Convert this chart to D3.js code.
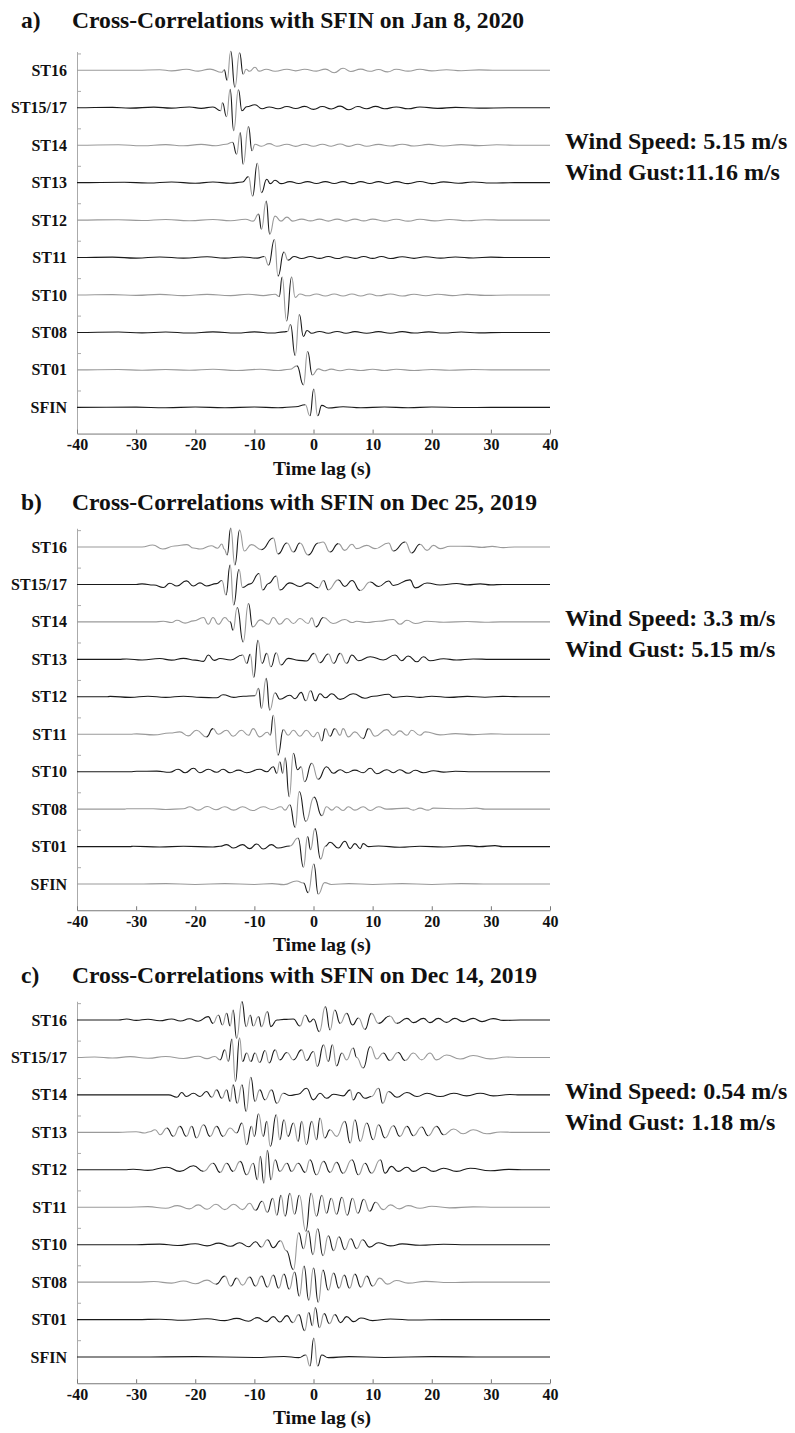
<!DOCTYPE html>
<html>
<head>
<meta charset="utf-8">
<script src="https://cdn.jsdelivr.net/npm/d3@7"></script>
<style>
body { margin: 0; background: #fff; }
svg text { font-family: "Liberation Serif", "Times New Roman", serif; font-weight: bold; fill: #111; }
</style>
</head>
<body>
<script>
// stations, top to bottom
var stations = ["ST16", "ST15/17", "ST14", "ST13", "ST12", "ST11", "ST10", "ST08", "ST01", "SFIN"];
var timeTicks = [-40, -30, -20, -10, 0, 10, 20, 30, 40];
var panelLetters = ["a)", "b)", "c)"];
var panelTitles = ["Cross-Correlations with SFIN on Jan 8, 2020",
                   "Cross-Correlations with SFIN on Dec 25, 2019",
                   "Cross-Correlations with SFIN on Dec 14, 2019"];
var windSpeed = ["Wind Speed: 5.15 m/s", "Wind Speed: 3.3 m/s", "Wind Speed: 0.54 m/s"];
var windGust = ["Wind Gust:11.16 m/s", "Wind Gust: 5.15 m/s", "Wind Gust: 1.18 m/s"];

// traces: [time lag (s), normalised amplitude]
var tracesA = [
  [[-40,0],[-30,0],[-26,0.03],[-24,-0.03],[-21.5,0.05],[-19.5,-0.04],[-17.5,0.06],[-15.5,-0.1],[-15.1,0.02],[-14.6,-0.5],[-14.0,0.95],[-13.3,-0.85],[-12.5,0.88],[-11.9,-0.2],[-11.4,0.05],[-10.8,-0.05],[-9.9,0.15],[-9.2,-0.04],[-8,0.05],[-6.5,-0.05],[-4.5,0.05],[-3,-0.03],[-1.5,0.05],[0.5,-0.04],[2,0.06],[3.5,-0.12],[5,0.1],[6.3,-0.06],[8,0.06],[9.5,-0.05],[11,0.04],[12.5,-0.08],[14,0.05],[16,-0.04],[18,0.05],[20,-0.03],[22.5,0.03],[25,-0.02],[28,0.02],[31,0],[40,0]],
  [[-40,0],[-34,0.02],[-31,-0.02],[-27,0.03],[-24,-0.02],[-21,0.04],[-19,-0.03],[-17,0.04],[-15.7,-0.15],[-15.4,0.25],[-14.7,-0.45],[-14.1,0.92],[-13.5,-1.15],[-12.7,0.9],[-12.1,-0.15],[-11.3,0.05],[-9.9,0.15],[-8.7,-0.05],[-7.5,0.04],[-6,-0.05],[-4.5,0.06],[-3,-0.04],[-1.5,0.07],[0,-0.08],[1.5,0.06],[3,-0.06],[4.5,0.08],[6,-0.1],[7.5,0.06],[9,-0.05],[10.5,0.07],[12,-0.05],[14,0.04],[16,-0.05],[18,0.04],[21,-0.03],[24,0.02],[28,-0.02],[33,0],[40,0]],
  [[-40,0],[-33,0.02],[-29,-0.03],[-25,0.03],[-22,-0.03],[-19,0.04],[-16.5,-0.03],[-14.8,0.05],[-13.7,0.15],[-13.0,-0.45],[-12.4,0.63],[-11.9,-0.95],[-11.0,0.93],[-10.4,-0.28],[-9.9,0.05],[-8.8,-0.05],[-7.5,0.08],[-6.2,-0.05],[-4.5,0.05],[-3,-0.06],[-1.5,0.05],[0,-0.05],[1.5,0.05],[3,-0.05],[4.5,0.06],[6,-0.06],[7.5,0.05],[9,-0.05],[11,0.04],[13,-0.04],[15,0.05],[17,-0.04],[19.5,0.04],[22,-0.04],[25,0.03],[28,-0.02],[31,0.02],[34,0],[40,0]],
  [[-40,0],[-32,0.02],[-28,-0.02],[-24,0.03],[-20,-0.03],[-17,0.03],[-14,-0.03],[-12,0.03],[-11.0,0.3],[-10.3,-0.67],[-9.5,0.97],[-8.8,-0.5],[-7.9,0.17],[-7.3,-0.05],[-6.5,0.12],[-5.5,-0.05],[-4,0.05],[-2.5,-0.04],[-1,0.05],[0.5,-0.04],[2,0.05],[3.5,-0.04],[5,0.05],[6.5,-0.05],[8,0.05],[9.5,-0.04],[11,0.05],[12.5,-0.04],[14,0.05],[16,-0.05],[18,0.06],[20,-0.05],[22,0.04],[24.5,-0.03],[27,0.03],[30,-0.02],[34,0],[40,0]],
  [[-40,0],[-33,0.02],[-29,-0.02],[-25,0.03],[-21,-0.03],[-17,0.03],[-14,-0.03],[-11.5,0.04],[-10.2,-0.05],[-9.3,0.3],[-8.8,-0.45],[-8.0,0.95],[-7.4,-0.7],[-6.5,0.2],[-5.5,-0.05],[-4.5,0.15],[-3.5,-0.05],[-2,0.05],[-0.5,-0.04],[1,0.05],[2.5,-0.05],[4,0.05],[5.5,-0.05],[7,0.05],[8.5,-0.04],[10,0.05],[12,-0.05],[14,0.04],[16,-0.05],[18,0.04],[20.5,-0.04],[23,0.03],[26,-0.03],[29,0.02],[32,0],[40,0]],
  [[-40,0],[-34,0.02],[-30,-0.03],[-26,0.03],[-22,-0.03],[-18,0.04],[-15,-0.03],[-12,0.03],[-9.5,-0.03],[-8.3,0.05],[-7.6,-0.38],[-6.6,0.9],[-6.0,-0.93],[-5.0,0.28],[-4.3,-0.13],[-3.3,0.05],[-2,-0.05],[-0.5,0.05],[1,-0.04],[2.5,0.05],[4,-0.05],[5.5,0.04],[7,-0.04],[8.5,0.05],[10,-0.04],[11.5,0.05],[13,-0.05],[15,0.04],[17,-0.04],[19,0.04],[21.5,-0.03],[24,0.03],[27,-0.02],[30,0.02],[33,0],[40,0]],
  [[-40,0],[-34,0.02],[-30,-0.02],[-26,0.03],[-22,-0.03],[-18,0.03],[-14,-0.03],[-11,0.04],[-8.5,-0.03],[-6.5,0.04],[-5.8,-0.08],[-5.3,0.9],[-4.55,-1.3],[-3.7,0.9],[-3.1,-0.12],[-2.3,0.05],[-1,-0.04],[0.5,0.05],[2,-0.05],[3.5,0.05],[5,-0.05],[6.5,0.05],[8,-0.05],[9.5,0.05],[11,-0.04],[13,0.05],[15,-0.05],[17,0.04],[19,-0.04],[21,0.04],[23.5,-0.03],[26,0.03],[29,-0.02],[33,0],[40,0]],
  [[-40,0],[-33,0.02],[-29,-0.02],[-25,0.02],[-21,-0.03],[-17,0.03],[-13,-0.03],[-10,0.03],[-7,-0.03],[-5,0.03],[-4.4,0.05],[-3.9,0.4],[-3.1,-1.15],[-2.4,0.9],[-1.7,-0.2],[-1.1,0.1],[-0.3,-0.04],[1,0.05],[2.5,-0.04],[4,0.05],[5.5,-0.04],[7,0.04],[9,-0.04],[11,0.04],[13,-0.04],[15,0.04],[17,-0.03],[19.5,0.03],[22,-0.03],[25,0.02],[28,-0.02],[32,0],[40,0]],
  [[-40,0],[-33,0.02],[-29,-0.02],[-25,0.02],[-21,-0.02],[-17,0.03],[-13,-0.03],[-9,0.03],[-6,-0.03],[-4,0.03],[-2.8,0.2],[-1.7,-0.75],[-1.0,0.92],[-0.2,-0.25],[0.8,0.05],[1.8,-0.04],[3,0.04],[4.5,-0.04],[6,0.03],[8,-0.03],[10,0.03],[12,-0.03],[14,0.03],[17,-0.03],[20,0.02],[23,-0.02],[27,0.02],[31,0],[40,0]],
  [[-40,0],[-30,0.01],[-25,-0.02],[-20,0.02],[-15,-0.02],[-10,0.02],[-6,-0.02],[-3,0.03],[-1.4,0.13],[-0.6,-0.42],[0.05,0.92],[0.7,-0.42],[1.4,0.1],[2.5,-0.03],[5,0.03],[8,-0.02],[12,0.02],[16,-0.02],[20,0.02],[25,-0.01],[30,0],[40,0]]
];

var tracesB = [
  [[-40,0],[-29,0],[-27.2,0.1],[-25.5,-0.1],[-23.5,0.05],[-21.4,0.12],[-20.3,-0.05],[-19.2,-0.1],[-17.3,0.06],[-16.2,-0.06],[-15.5,0.15],[-15.1,-0.1],[-14.6,-0.4],[-14.0,0.95],[-13.3,-0.9],[-12.5,0.85],[-11.7,-0.2],[-10.5,0.12],[-8.8,-0.13],[-6.8,0.45],[-6.0,-0.35],[-4.5,0.2],[-3.4,-0.25],[-2.3,0.2],[-0.9,-0.4],[0.8,0.2],[1.6,0.25],[2.8,-0.25],[4.2,0.17],[5.3,-0.17],[6.5,0.14],[7.3,-0.08],[9,0.08],[10.4,-0.08],[12.7,0.2],[13.5,-0.2],[15.5,0.25],[16.6,-0.3],[18,0.14],[19.2,-0.17],[20.3,0.08],[21.4,-0.08],[23.1,0.04],[26.5,0.03],[28.5,-0.02],[30.2,0.03],[32.1,-0.03],[34,0],[40,0]],
  [[-40,0],[-30,0],[-29,0.03],[-27,-0.03],[-25.4,-0.15],[-24.3,0.06],[-23.1,-0.08],[-21.5,0.18],[-20.3,-0.08],[-19.2,0.08],[-18.1,-0.08],[-16.4,0.04],[-15.5,0.2],[-14.8,-0.53],[-14.1,0.97],[-13.5,-1.03],[-12.6,0.75],[-12.0,-0.15],[-10.7,0.03],[-9.2,0.55],[-8.6,-0.28],[-7.6,0.05],[-6.3,0.42],[-5.7,-0.28],[-4,0.08],[-2.3,-0.1],[-0.9,0.08],[0.8,-0.17],[1.7,0.2],[2.5,-0.27],[4.2,0.23],[5.3,-0.1],[6.5,0.2],[7.9,-0.3],[9.6,0.12],[11,-0.1],[12.7,0.17],[13.5,-0.05],[16.3,0.23],[17.2,-0.17],[19.2,0.07],[21.4,-0.03],[24.2,0.05],[26,-0.02],[28.2,0.03],[30,-0.02],[32,0],[40,0]],
  [[-40,0],[-27,0],[-25.4,0.03],[-24,-0.03],[-23.1,0.08],[-21.7,-0.06],[-20.3,0.05],[-18.6,0.22],[-17.8,-0.12],[-17,0.22],[-16.1,-0.12],[-15,0.22],[-14.1,0],[-13.6,-0.42],[-12.9,0.72],[-11.9,-1.0],[-11,0.92],[-10.3,-0.25],[-9,0.1],[-7.6,-0.12],[-6.8,0.22],[-5.7,-0.12],[-4.5,0.17],[-3.4,-0.08],[-2.3,0.17],[-0.9,-0.08],[-0.3,0.2],[0.4,-0.25],[1.7,0.22],[3.3,-0.08],[5.3,0.12],[6.5,-0.03],[7.3,0.03],[9,-0.03],[11,0.03],[13.5,0.12],[14.6,-0.12],[15.8,0.08],[17.2,-0.08],[19.2,0.03],[22,-0.02],[26,0.02],[29,-0.02],[31.6,0],[40,0]],
  [[-40,0],[-33,0],[-31.6,0.02],[-29,-0.03],[-26,0.04],[-24,-0.04],[-22,0.05],[-20,-0.04],[-18.6,-0.1],[-17.8,0.22],[-16.8,-0.05],[-15.8,0.04],[-14,-0.03],[-12,0.22],[-11.3,-0.2],[-10.7,0.25],[-10.1,-0.9],[-9.4,0.95],[-8.7,-0.2],[-7.9,0.3],[-7.2,-0.37],[-6.3,0.33],[-5.5,-0.28],[-4.3,0.05],[-2.5,-0.05],[-1.2,-0.08],[0.1,0.3],[1.1,-0.17],[2.5,0.27],[3.4,-0.2],[4.5,0.3],[5.6,-0.2],[6.5,0.22],[7.6,-0.07],[9.6,0.13],[11.8,-0.03],[13.8,0.22],[14.9,-0.07],[16,0.17],[17.5,-0.12],[18.6,0.13],[19.7,-0.07],[22,0.03],[24.2,-0.03],[27,0.02],[30,0],[40,0]],
  [[-40,0],[-35,0],[-34.4,0.02],[-31,-0.03],[-28,0.03],[-25,-0.03],[-22,0.03],[-19,-0.03],[-16.4,-0.05],[-15.3,0.1],[-13.5,-0.03],[-11.9,0.03],[-9.9,0.05],[-9.3,0.42],[-8.8,-0.58],[-8,0.92],[-7.4,-0.67],[-6.5,0.2],[-5.7,-0.12],[-4,0.08],[-3.1,-0.1],[-2.1,0.22],[-1.3,-0.2],[-0.5,0.3],[0.3,-0.2],[1.1,0.15],[2,-0.05],[3.1,0.15],[4.5,-0.13],[6.7,0.15],[8.7,-0.07],[10.1,0.03],[12.7,0.13],[13.5,-0.03],[15.8,0.03],[18,-0.03],[20,0.03],[23,-0.03],[26,0.02],[29,-0.02],[32,0.02],[36,0],[40,0]],
  [[-40,0],[-31,0],[-29.9,0.02],[-27,-0.03],[-24.3,0.06],[-22.6,0.12],[-21.2,-0.08],[-19.8,0.2],[-18.1,-0.13],[-17,0.28],[-16.1,0],[-14.7,0.2],[-13.6,-0.1],[-12.2,0.2],[-11,-0.05],[-10.2,0.28],[-9.1,-0.13],[-7.8,0.1],[-7.3,-0.05],[-6.8,0.95],[-6.0,-1.05],[-5.1,0.23],[-4.3,-0.05],[-3.4,0.2],[-2.3,-0.1],[-1.2,0.2],[0,-0.13],[0.7,0.1],[1.4,-0.33],[2.0,0.28],[2.8,-0.1],[3.6,0.28],[4.5,-0.05],[5.0,0.28],[5.9,-0.13],[7,0.12],[8.4,-0.22],[9.3,0.28],[10.4,-0.1],[12.4,0.23],[13.5,-0.05],[14.6,0.17],[15.8,-0.05],[16.6,0.2],[18,-0.05],[18.9,0.12],[21.4,-0.03],[24,0.03],[27,-0.02],[30,0.02],[33,0],[40,0]],
  [[-40,0],[-31,0],[-29.9,0.02],[-26.5,0.03],[-24.3,-0.03],[-22.9,0.12],[-21.7,-0.05],[-20.3,0.17],[-19.2,-0.05],[-17.8,0.12],[-16.4,-0.03],[-15.3,0.12],[-14.1,-0.05],[-12.7,0.08],[-11.3,-0.05],[-9.1,0.12],[-7.9,0],[-6.8,0.25],[-6.2,-0.08],[-5.7,0.5],[-5.2,-0.08],[-4.8,0.7],[-4.1,-1.25],[-3.4,0.92],[-2.7,0.1],[-2.1,0.25],[-1.5,-0.5],[-0.3,0.42],[0.8,-0.38],[2.2,0.25],[3.35,-0.08],[4.5,0.1],[5.6,-0.05],[7,0.08],[8.4,-0.05],[9.6,0.17],[10.7,-0.1],[12.4,0.1],[13.5,-0.05],[14.6,0.1],[16,-0.08],[17.2,0.07],[18.6,-0.05],[20.3,0.05],[22,-0.02],[24,0.02],[27,0],[40,0]],
  [[-40,0],[-32,0],[-31.6,0.02],[-27.1,0.02],[-25,-0.02],[-22,0.02],[-20.9,0.12],[-19.5,-0.05],[-18,0.13],[-16.5,-0.03],[-15,0.12],[-13.5,-0.05],[-12,0.12],[-10.3,-0.07],[-8.5,0.12],[-7,-0.02],[-5.5,0.12],[-4.8,-0.05],[-4,0.22],[-3.1,-0.92],[-2.4,0.88],[-1.3,-0.62],[0.1,0.6],[1.4,-0.33],[2.2,0.12],[3.1,-0.05],[3.9,0.12],[5,-0.07],[5.9,0.12],[7,-0.05],[8.4,0.12],[9.6,-0.07],[11,0.12],[12.4,0],[15.8,0.05],[16.9,-0.05],[18,0.05],[19.4,-0.05],[20.3,0.05],[24.8,0.02],[27.6,0.05],[29,0],[40,0]],
  [[-40,0],[-31,0],[-30.5,0.02],[-26,-0.02],[-22,0.02],[-17,-0.02],[-15.8,0.02],[-14.7,0.1],[-13.5,-0.07],[-12,0.1],[-10.8,-0.1],[-9.6,0.13],[-8.5,-0.12],[-7.1,0.1],[-6,-0.07],[-4,0.03],[-2.6,0.43],[-1.7,-1.03],[-1,0.5],[-0.5,-0.15],[0.25,0.9],[1.2,-0.62],[2,0.02],[2.8,0.22],[4.2,-0.07],[5.3,0.27],[6.2,-0.1],[7,0.15],[7.9,-0.1],[8.4,0.15],[9.3,0],[11,0.03],[14.6,-0.03],[18,0.02],[22,-0.02],[26.2,0.05],[28,0],[30.7,0.05],[32,0],[40,0]],
  [[-40,0],[-30,0],[-25,0.02],[-20,-0.02],[-15,0.02],[-10,-0.02],[-7,0.02],[-5,-0.03],[-2.85,0.15],[-1.7,0.05],[-0.9,-0.43],[0.05,1.0],[0.8,-0.5],[1.9,0.07],[3,-0.02],[6,0.02],[10,-0.02],[15,0.02],[20,-0.02],[25,0.02],[30,0],[40,0]]
];

var tracesC = [
  [[-40,0],[-33,0],[-31.6,0.05],[-30,-0.02],[-28,0.04],[-26,-0.04],[-24,0.05],[-22.5,-0.05],[-21,0.06],[-19.5,-0.06],[-17.8,0.17],[-17,-0.17],[-16.1,0.25],[-15.4,-0.25],[-14.7,0.33],[-14.1,-0.3],[-13.6,0.5],[-13,-0.92],[-12.1,0.92],[-11.4,-0.33],[-10.7,0.25],[-10.2,-0.3],[-9.3,0.17],[-8.8,-0.33],[-7.8,0.42],[-7.2,-0.33],[-6.2,0],[-5,0.03],[-3.4,0.05],[-2.3,-0.3],[-1.4,0.25],[-0.6,-0.1],[0,0.05],[1,-0.58],[2,0.67],[2.8,-0.5],[3.6,0.5],[4.5,-0.17],[5.6,0.33],[6.6,-0.25],[7.6,0.1],[8.7,-0.47],[9.8,0.33],[11,-0.17],[12.9,0.2],[14.1,-0.17],[15.8,0.08],[16.9,-0.13],[18.6,0.08],[19.7,-0.13],[21.1,0.08],[22.5,-0.12],[23.9,0.08],[25.3,-0.08],[27,0.08],[28.5,-0.08],[30.4,0.07],[32.1,-0.02],[35,0],[40,0]],
  [[-40,0],[-37,0.02],[-34,-0.03],[-31,0.04],[-28,-0.04],[-25,0.05],[-22,-0.05],[-19.5,0.06],[-18,-0.06],[-16.7,0.05],[-15.8,-0.12],[-15,0.38],[-14.4,-0.2],[-13.8,0.92],[-13.2,-1.2],[-12.5,0.97],[-12,-0.2],[-11.3,0.22],[-10.6,-0.2],[-9.9,0.22],[-9.1,-0.25],[-8.2,0.35],[-7.5,-0.28],[-6.5,0.38],[-5.7,-0.12],[-4.5,0.25],[-3.4,-0.12],[-2,0.38],[-1.2,-0.15],[0,0.3],[0.65,-0.45],[1.7,0.63],[2.5,-0.2],[3.2,0.63],[3.9,-0.42],[4.8,0.22],[5.6,-0.12],[6.7,0.47],[7.3,0],[8.4,-0.53],[9.6,0.55],[10.7,-0.08],[11.8,0.22],[12.9,-0.15],[14.3,0.25],[15.5,-0.15],[16.9,0.22],[18.3,-0.12],[19.7,0.22],[20.8,-0.12],[22.5,0.12],[24.8,-0.08],[27,0.1],[29.9,-0.07],[32.7,0.02],[35,0],[40,0]],
  [[-40,0],[-24.5,0],[-23.1,-0.12],[-22.3,0.12],[-21.5,-0.08],[-20.3,0.08],[-19.2,-0.08],[-18.1,0.17],[-17.2,-0.12],[-16.4,0.25],[-15.5,-0.17],[-14.7,0.25],[-14.1,-0.33],[-13.6,0.5],[-12.9,-0.42],[-12.1,0.5],[-11.4,-0.83],[-10.6,0.88],[-9.9,-0.33],[-9.1,0.25],[-8.2,-0.25],[-7.1,0.25],[-6.2,-0.42],[-5.1,0.08],[-4,-0.03],[-2.6,0.03],[-1.2,0.33],[0,-0.25],[1.1,0.08],[2.2,-0.17],[3.4,0.03],[5,-0.05],[6.2,0.25],[6.7,-0.25],[7.6,0.12],[8.7,-0.17],[9.8,-0.08],[11,0.33],[11.7,-0.42],[12.7,0.17],[14.1,-0.12],[15.8,0.12],[17.5,-0.08],[19.2,0.08],[21.4,-0.08],[23.7,0.08],[25.9,-0.05],[28.2,0.08],[30.4,-0.05],[33.2,0.02],[35,0],[40,0]],
  [[-40,0],[-33,0],[-30,0.03],[-28.5,-0.03],[-27.7,0.03],[-26.8,0.13],[-25.9,-0.12],[-24.8,0.22],[-23.7,-0.2],[-22.6,0.3],[-21.5,-0.2],[-20.6,0.3],[-19.8,-0.28],[-18.6,0.38],[-17.5,-0.2],[-16.4,0.3],[-15.3,-0.2],[-14.1,0.22],[-13,-0.03],[-12.1,0.47],[-11.3,-0.62],[-10.5,0.3],[-10,-0.2],[-9.3,0.93],[-8.5,-0.2],[-7.9,0.55],[-7.3,-0.7],[-6.3,0.88],[-5.7,-0.37],[-5,0.63],[-4.3,-0.2],[-3.4,0.47],[-2.6,-0.45],[-2,0.55],[-1.2,-0.62],[-0.3,0.55],[0.5,-0.37],[1.1,0.72],[1.9,-0.28],[2.8,0.13],[3.9,-0.2],[5.3,0.55],[6.2,-0.53],[7,0.63],[7.9,-0.45],[9,0.47],[10.1,-0.37],[11,0.38],[12.1,-0.28],[13.5,0.33],[14.6,-0.2],[15.8,0.3],[16.9,-0.17],[18.3,0.27],[19.4,-0.17],[20.8,0.3],[22,-0.12],[23.7,0.17],[25.3,-0.07],[27,0.13],[29.3,-0.07],[31.6,0.02],[34,0],[40,0]],
  [[-40,0],[-32,0],[-30.5,0.03],[-28,-0.03],[-24.8,0.13],[-22.6,-0.08],[-20.3,0.2],[-18.6,-0.08],[-17,0.33],[-15.8,-0.13],[-14.7,0.33],[-13.6,-0.08],[-12.4,0.42],[-11.3,-0.25],[-10.2,0.33],[-9.5,-0.5],[-9,0.67],[-8.4,-0.67],[-7.8,0.97],[-7.2,-0.5],[-6.5,0.5],[-5.7,-0.08],[-4.5,0.33],[-3.7,-0.08],[-2.6,0.33],[-1.4,-0.13],[-0.6,0.5],[0.5,-0.25],[1.7,0.42],[2.8,-0.13],[3.9,0.37],[5,-0.17],[6.5,0.5],[7.6,-0.25],[8.7,0.33],[9.8,-0.17],[11.3,0.5],[12.1,-0.17],[13.2,0.17],[14.3,-0.08],[15.8,0.13],[16.9,-0.08],[18.6,0.13],[20.3,-0.08],[22,0.08],[24.2,-0.08],[26.5,0.08],[29.9,-0.05],[33,0.02],[36,0],[40,0]],
  [[-40,0],[-32,0],[-28,0.03],[-25,-0.05],[-23,0.08],[-21,-0.08],[-19.5,0.12],[-18,-0.1],[-16.5,0.15],[-15,-0.12],[-13.5,0.15],[-12,-0.12],[-10.8,0.2],[-9.8,-0.15],[-8.7,0.3],[-7.8,-0.25],[-6.9,0.45],[-6.2,-0.4],[-5.5,0.6],[-4.8,-0.45],[-4,0.7],[-3.2,-0.35],[-2.4,0.6],[-1.3,-1.2],[-0.4,0.7],[0.5,-0.45],[1.4,0.6],[2.2,-0.3],[3,0.45],[3.9,-0.35],[4.8,0.5],[5.7,-0.4],[6.6,0.45],[7.5,-0.3],[8.5,0.4],[9.5,-0.2],[10.5,0.25],[11.8,-0.12],[13,0.12],[14.5,-0.08],[16,0.08],[18,-0.05],[20,0.05],[23,-0.03],[27,0.02],[31,0],[40,0]],
  [[-40,0],[-30,0],[-26,0.03],[-23,-0.04],[-20,0.05],[-18,-0.06],[-16,0.08],[-14,-0.08],[-12.5,0.1],[-11,-0.1],[-9.8,0.15],[-8.8,-0.12],[-7.8,0.25],[-6.8,-0.15],[-5.6,0.2],[-4.6,-0.3],[-3.4,-1.25],[-2.5,0.6],[-1.7,-0.2],[-0.9,0.7],[-0.1,-0.5],[0.7,0.8],[1.6,-0.55],[2.5,0.45],[3.4,-0.3],[4.3,0.4],[5.3,-0.25],[6.3,0.3],[7.3,-0.2],[8.3,0.25],[9.5,-0.12],[11,0.1],[13,-0.06],[15,0.04],[18,-0.03],[22,0.02],[26,0],[40,0]],
  [[-40,0],[-30,0],[-27,0.03],[-24,-0.05],[-22,0.06],[-20,-0.08],[-18,0.1],[-16.5,-0.1],[-15,0.3],[-14,-0.2],[-13,0.2],[-12,-0.15],[-10.8,0.25],[-9.8,-0.2],[-8.8,0.3],[-7.8,-0.25],[-6.8,0.35],[-5.9,-0.3],[-5,0.4],[-4.1,-0.35],[-3.2,0.5],[-2.4,-0.7],[-1.6,0.8],[-0.8,-0.9],[0,0.7],[0.8,-1],[1.6,0.6],[2.5,-0.4],[3.4,0.45],[4.3,-0.3],[5.2,0.35],[6.1,-0.3],[7,0.4],[8,-0.25],[9,0.3],[10,-0.2],[11.2,0.2],[12.5,-0.1],[14,0.08],[16,-0.05],[19,0.04],[23,-0.02],[27,0],[40,0]],
  [[-40,0],[-30,0],[-26,0.02],[-22,-0.03],[-18,0.04],[-15,-0.05],[-13,0.06],[-11,-0.08],[-9.5,0.1],[-8,-0.1],[-6.8,0.15],[-5.7,-0.12],[-4.5,0.2],[-3.5,-0.15],[-2.5,0.25],[-1.5,-0.55],[-0.8,0.35],[-0.2,-0.3],[0.3,0.6],[1,-0.4],[1.8,0.3],[2.7,-0.2],[3.6,0.25],[4.6,-0.15],[5.6,0.15],[6.8,-0.1],[8,0.08],[10,-0.05],[13,0.03],[17,-0.02],[22,0],[40,0]],
  [[-40,0],[-30,0],[-20,0.02],[-10,-0.02],[-5,0.03],[-2.5,-0.03],[-1.3,0.1],[-0.6,-0.45],[0.05,0.95],[0.7,-0.45],[1.4,0.1],[2.5,-0.03],[6,0.02],[12,-0.02],[20,0.02],[30,0],[40,0]]
];

// base colour of each trace (g = grey, k = black)
var baseColorsA = ["g","k","g","k","g","k","g","k","g","k"];
var baseColorsB = ["g","k","g","k","k","g","k","g","k","g"];
var baseColorsC = ["k","g","k","g","k","g","k","g","k","k"];

var panelTracesList = [tracesA, tracesB, tracesC];
var panelColorsList = [baseColorsA, baseColorsB, baseColorsC];
var panelTops = [70.3, 547, 1020];
var titleBaselines = [28, 510, 983];

var W = 795, H = 1433;
var spacing = 37.45;
var grey = "#9a9a9a", black = "#1a1a1a";

var svg = d3.select("body").append("svg").attr("width", W).attr("height", H);

var x = d3.scaleLinear().domain([-40, 40]).range([77, 550]);
var amp = d3.scaleLinear().domain([-1, 1]).range([20, -20]);
var line = d3.line().x(function(d){return x(d[0]);}).y(function(d){return amp(d[1]);}).curve(d3.curveBumpX);

function drawPanel(p) {
  var top = panelTops[p];
  var g = svg.append("g");
  var yIdx = d3.scaleLinear().domain([0, 9]).range([top, top + 9 * spacing]);
  var axisY = yIdx(9.7);

  // titles
  g.append("text").attr("x", 21).attr("y", titleBaselines[p]).attr("font-size", 23.5).text(panelLetters[p]);
  g.append("text").attr("x", 72).attr("y", titleBaselines[p]).attr("font-size", 23.6).text(panelTitles[p]);

  // wind
  g.append("text").attr("x", 565).attr("y", top + 79).attr("font-size", 24).text(windSpeed[p]);
  g.append("text").attr("x", 565).attr("y", top + 110).attr("font-size", 24).text(windGust[p]);

  // left axis
  var yAxisScale = d3.scaleLinear().domain([-0.5, 9.7]).range([yIdx(-0.5), axisY]);
  var yAx = g.append("g").attr("transform", "translate(" + x(-40) + ",0)")
    .call(d3.axisLeft(yAxisScale).tickValues(d3.range(0, 10).map(function(k){return k - 0.45;}))
      .tickSizeInner(-4).tickSizeOuter(0).tickFormat(""));
  yAx.selectAll("path,line").attr("stroke", "#aaa");

  // bottom axis
  var xAx = g.append("g").attr("transform", "translate(0," + axisY + ")")
    .call(d3.axisBottom(x).tickValues(timeTicks).tickSizeInner(-4).tickSizeOuter(0).tickPadding(5)
      .tickFormat(function(d){return String(d);}));
  xAx.selectAll("path,line").attr("stroke", "#777");
  xAx.selectAll("text").attr("font-size", 16).attr("font-family", "Liberation Serif, serif")
    .attr("font-weight", "bold").attr("fill", "#111");

  g.append("text").attr("x", 322).attr("y", axisY + 41).attr("text-anchor", "middle")
    .attr("font-size", 19.5).text("Time lag (s)");

  // station labels
  g.selectAll("text.st").data(stations).enter().append("text")
    .attr("class", "st").attr("x", 67).attr("y", function(d, i){return yIdx(i) + 5.5;})
    .attr("text-anchor", "end").attr("font-size", 16).text(function(d){return d;});

  // traces
  var traces = panelTracesList[p], cols = panelColorsList[p];
  traces.forEach(function(tr, i) {
    var tg = g.append("g").attr("transform", "translate(0," + yIdx(i) + ")");
    var base = cols[i] === "g" ? grey : black, other = cols[i] === "g" ? black : grey;
    // split into runs of one colour; large swings alternate colour
    var runs = [], big = 0, cur = null;
    for (var k = 0; k < tr.length - 1; k++) {
      var c = base;
      if (Math.abs(tr[k + 1][1] - tr[k][1]) > 0.35) { c = (big % 2 === 0) ? other : base; big++; }
      if (!cur || cur.c !== c) { cur = {c: c, pts: [tr[k]]}; runs.push(cur); }
      cur.pts.push(tr[k + 1]);
    }
    tg.selectAll("path").data(runs).enter().append("path")
      .attr("d", function(r){return line(r.pts);})
      .attr("fill", "none").attr("stroke", function(r){return r.c;})
      .attr("stroke-width", 1.1).attr("stroke-linejoin", "round");
  });
}

[0, 1, 2].forEach(drawPanel);
</script>
</body>
</html>
